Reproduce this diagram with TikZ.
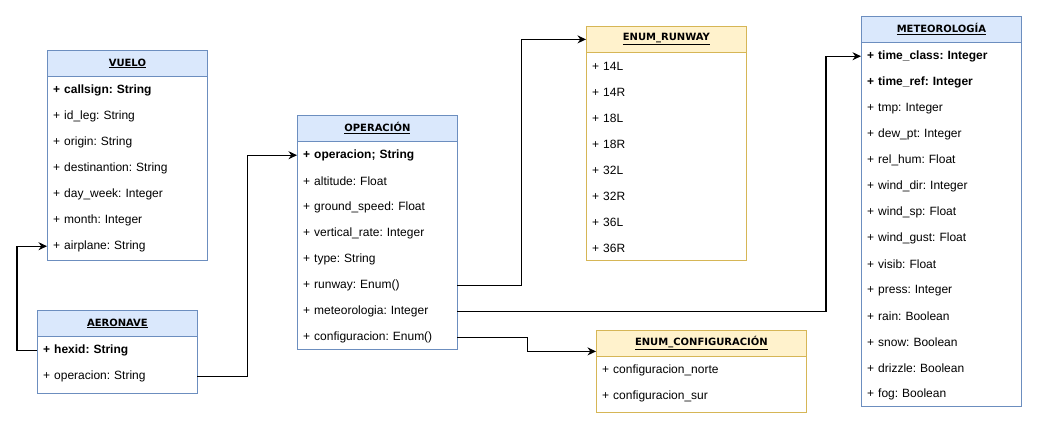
\documentclass[tikz,border=0pt]{standalone}
\usepackage{fontspec}
\setmainfont{Liberation Sans}
\newfontfamily\titlefont{DejaVu Sans}
\usetikzlibrary{positioning}
\usetikzlibrary{calc}
\usetikzlibrary{arrows.meta}
\definecolor{bluefill}{HTML}{DAE8FC}
\definecolor{blueline}{HTML}{6C8EBF}
\definecolor{yellowfill}{HTML}{FFF2CC}
\definecolor{yellowline}{HTML}{D6B656}
\frenchspacing

\begin{document}
\begin{tikzpicture}[x=1pt, y=-1pt,
    box/.style={draw, line width=0.8pt, fill=white, anchor=north west, inner sep=0},
    bluebox/.style={box, draw=blueline},
    yellowbox/.style={box, draw=yellowline},
    head/.style={draw, line width=0.8pt, anchor=north, minimum height=26, inner sep=0,
        font=\titlefont\bfseries\fontsize{10}{12}\selectfont},
    bluehead/.style={head, draw=blueline, fill=bluefill},
    yellowhead/.style={head, draw=yellowline, fill=yellowfill},
    attr/.style={anchor=north west, minimum height=26, inner xsep=6, inner ysep=0,
        text width=#1, align=left, font=\fontsize{12}{14}\selectfont},
    attr/.default=148,
    link/.style={-{Stealth[length=8.5pt,width=8pt]}, line width=1.1pt}]
        \useasboundingbox (0,0) rectangle (1046,429);

        % nodes %
        \node[bluebox, minimum width=160, minimum height=210] (vuelo) at (47,50) {};
        \node[bluehead, minimum width=160] (vuelo-h) at (vuelo.north) {\underline{VUELO}};
        \foreach \txt [count=\i] in {\textbf{+ callsign: String}, + id\_leg: String, + origin: String,
            + destinantion: String, + day\_week: Integer, + month: Integer, + airplane: String}
            \node[attr] (vuelo-\i) at ($(vuelo.north west)+(0,26*\i+1)$) {\txt};

        \node[bluebox, minimum width=160, minimum height=83] (aero) at (37,310) {};
        \node[bluehead, minimum width=160] (aero-h) at (aero.north) {\underline{AERONAVE}};
        \foreach \txt [count=\i] in {\textbf{+ hexid: String}, + operacion: String}
            \node[attr] (aero-\i) at ($(aero.north west)+(0,26*\i+1)$) {\txt};

        \node[bluebox, minimum width=160, minimum height=234] (oper) at (297,115) {};
        \node[bluehead, minimum width=160] (oper-h) at (oper.north) {\underline{OPERACIÓN}};
        \foreach \txt [count=\i] in {\textbf{+ operacion; String}, + altitude: Float, + ground\_speed: Float,
            + vertical\_rate: Integer, + type: String, + runway: Enum(), + meteorologia: Integer,
            + configuracion: Enum()}
            \node[attr] (oper-\i) at ($(oper.north west)+(0,26*\i+1)$) {\txt};

        \node[yellowbox, minimum width=160, minimum height=234] (runway) at (586,26) {};
        \node[yellowhead, minimum width=160] (runway-h) at (runway.north) {\underline{ENUM\_RUNWAY}};
        \foreach \txt [count=\i] in {14L, 14R, 18L, 18R, 32L, 32R, 36L, 36R}
            \node[attr] (runway-\i) at ($(runway.north west)+(0,26*\i+1)$) {+ \txt};

        \node[bluebox, minimum width=160, minimum height=390] (meteo) at (861,16) {};
        \node[bluehead, minimum width=160] (meteo-h) at (meteo.north) {\underline{METEOROLOGÍA}};
        \foreach \txt [count=\i] in {\textbf{+ time\_class: Integer}, \textbf{+ time\_ref: Integer},
            + tmp: Integer, + dew\_pt: Integer, + rel\_hum: Float, + wind\_dir: Integer,
            + wind\_sp: Float, + wind\_gust: Float, + visib: Float, + press: Integer,
            + rain: Boolean, + snow: Boolean, + drizzle: Boolean, + fog: Boolean}
            \node[attr] (meteo-\i) at ($(meteo.north west)+(0,26*\i+1)$) {\txt};

        \node[yellowbox, minimum width=210, minimum height=82] (conf) at (596,330) {};
        \node[yellowhead, minimum width=210] (conf-h) at (conf.north) {\underline{ENUM\_CONFIGURACIÓN}};
        \foreach \txt [count=\i] in {configuracion\_norte, configuracion\_sur}
            \node[attr=198] (conf-\i) at ($(conf.north west)+(0,26*\i+1)$) {+ \txt};

        % edges %
        \draw[link] (aero-1.west) -- ++(-20,0) |- (vuelo-7.west);
        \draw[link] (aero-2.east) -- ++(50,0) |- (oper-1.west);
        \draw[link] (oper-6.east) -- ++(64,0) |- (runway-h.west);
        \draw[link] (oper-7.east) -| ([xshift=-35pt]meteo-1.west) -- (meteo-1.west);
        \draw[link] (oper-8.east) -- ++(70,0) |- ([yshift=-8pt]conf-h.west);
\end{tikzpicture}
\end{document}
